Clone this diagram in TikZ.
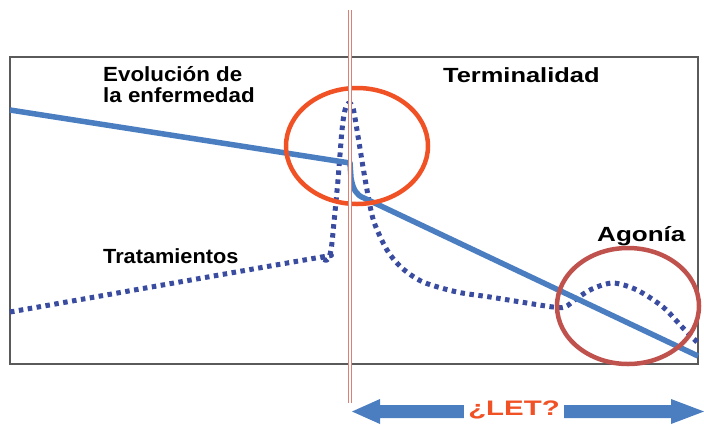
\documentclass[tikz,border=0pt]{standalone}
\usepackage{fontspec}
\setmainfont{Liberation Sans}
\usetikzlibrary{positioning}
\definecolor{lineblue}{RGB}{74,126,193}
\definecolor{dotblue}{RGB}{58,76,160}
\definecolor{ringorange}{RGB}{240,82,38}
\definecolor{ringred}{RGB}{192,82,78}
\definecolor{cutred}{RGB}{218,128,116}
\definecolor{framegray}{RGB}{90,90,90}
\newcommand{\wide}[2]{\scalebox{#1}[1]{#2}}

\begin{document}
\begin{tikzpicture}[x=1pt,y=-1pt,
  label/.style={inner sep=0pt,font=\bfseries\fontsize{20.5}{21}\selectfont},
  ring/.style={line width=4.5pt}]
  \useasboundingbox (0,0) rectangle (704,424);
  \draw[framegray,line width=1.5pt] (10,57) rectangle (698,364);
  % treatments
  \draw[dotblue,line width=5pt,dash pattern=on 4.5pt off 4.5pt,line join=round]
    plot[smooth,tension=0.5] coordinates {(10,312) (310,259) (320,258) (327,260) (331,250)
      (334,222) (338,180) (342,130) (345,110) (349,103) (353,108) (357,130)
      (363,167) (368,195) (374,222) (387,250) (402,268) (423,282) (457,292)
      (490,297) (527,303) (553,307) (565,307) (576,299) (592,289) (613,283)
      (637,290) (663,307) (683,328) (697,342)};
  % disease
  \draw[lineblue,line width=5.5pt,line join=round]
    (10,110) -- (350,163) -- (351,178) .. controls (353,189) and (356,195) .. (364,198) -- (698,356);
  \draw[ringorange,ring] (357,146) ellipse [x radius=71pt,y radius=58pt];
  \draw[ringred,ring] (628,306) ellipse [x radius=71pt,y radius=58pt];
  \coordinate (cuttop) at (350,10);
  \coordinate (cutbot) at (350,403);
  \draw[cutred,line width=0.9pt,double=white,double distance=2.4pt] (cuttop) -- (cutbot);
  \node[label,anchor=base west,align=left] (evol) at (103,102) {\wide{1.09}{Evolución de}\\\wide{1.09}{la enfermedad}};
  \node[label,anchor=base west] (term) at (443,82) {\wide{1.24}{Terminalidad}};
  \node[label,anchor=base west] (trat) at (103,263) {\wide{1.06}{Tratamientos}};
  \node[label,anchor=base west] (agon) at (597,241) {\wide{1.27}{Agonía}};
  % LET arrow
  \fill[lineblue] (352,411.5) -- (380,399) -- (380,405) -- (671,405) -- (671,399)
    -- (704,411.5) -- (671,424) -- (671,418) -- (380,418) -- (380,424) -- cycle;
  \node[fill=white,inner xsep=4pt,inner ysep=0pt,text=ringorange,anchor=base,
    font=\bfseries\fontsize{21}{21}\selectfont] (let) at (514,415) {\wide{1.4}{¿LET?}};
\end{tikzpicture}
\end{document}
